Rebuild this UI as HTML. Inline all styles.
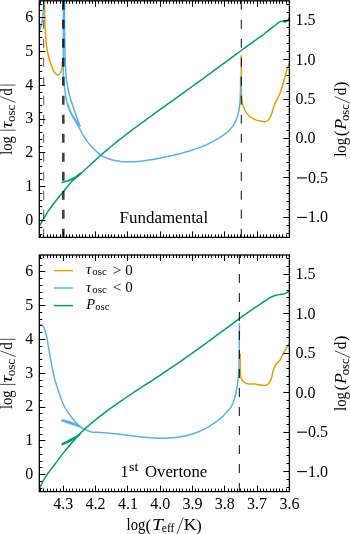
<!DOCTYPE html><html><head><meta charset="utf-8"><style>html,body{margin:0;padding:0;background:#fff;width:350px;height:534px;overflow:hidden}svg{display:block;will-change:transform}text{font-family:"Liberation Serif",serif;fill:#000}.it{font-style:italic}</style></head><body>
<svg width="350" height="534" viewBox="0 0 350 534">
<clipPath id="c0"><rect x="39.3" y="0.8" width="250.09999999999997" height="236.6"/></clipPath>
<g clip-path="url(#c0)">
<path d="M44.4 0 C44.43 1.67 44.53 6.67 44.6 10 C44.67 13.33 44.72 17.22 44.8 20 C44.88 22.78 44.97 24.27 45.1 26.7 C45.23 29.13 45.42 31.97 45.6 34.6 C45.78 37.23 45.92 39.88 46.2 42.5 C46.48 45.12 46.83 47.68 47.3 50.3 C47.77 52.92 48.35 55.75 49 58.2 C49.65 60.65 50.37 62.75 51.2 65 C52.03 67.25 53.05 70.05 54 71.7 C54.95 73.35 56.05 74.43 56.9 74.9 C57.75 75.37 58.45 74.95 59.1 74.5 C59.75 74.05 60.33 73.23 60.8 72.2 C61.27 71.17 61.65 70 61.9 68.3 C62.15 66.6 62.23 63.05 62.3 62" fill="none" stroke="#E69F00" stroke-width="1.5" stroke-linejoin="round" stroke-linecap="butt"/>
<path d="M241.3 55.3 C241.3 59.42 241.27 73.38 241.3 80 C241.33 86.62 241.3 91.17 241.5 95 C241.7 98.83 242 100.58 242.5 103 C243 105.42 243.43 107.37 244.5 109.5 C245.57 111.63 247.17 114.12 248.9 115.8 C250.63 117.48 252.72 118.68 254.9 119.6 C257.08 120.52 260.18 120.97 262 121.3 C263.82 121.63 264.63 121.97 265.8 121.6 C266.97 121.23 268.03 120.37 269 119.1 C269.97 117.83 270.85 115.9 271.6 114 C272.35 112.1 272.87 109.6 273.5 107.7 C274.13 105.8 274.77 104.08 275.4 102.6 C276.03 101.12 276.57 100.28 277.3 98.8 C278.03 97.32 278.95 95.83 279.8 93.7 C280.65 91.57 281.55 88.77 282.4 86 C283.25 83.23 284.17 79.75 284.9 77.1 C285.63 74.45 286.27 71.9 286.8 70.1 C287.33 68.3 287.65 67.35 288.1 66.3 C288.55 65.25 289.27 64.22 289.5 63.8" fill="none" stroke="#E69F00" stroke-width="1.5" stroke-linejoin="round" stroke-linecap="butt"/>
<path d="M44 0 C43.93 1.33 43.77 5.5 43.6 8 C43.43 10.5 43.27 12.67 43 15 C42.73 17.33 42.37 20 42 22 C41.63 24 41.25 25.5 40.8 27 C40.35 28.5 39.55 30.33 39.3 31" fill="none" stroke="#56B4E9" stroke-width="1.5" stroke-linejoin="round" stroke-linecap="butt"/>
<path d="M63.3 0 C63.3 6.67 63.3 30 63.3 40 C63.3 50 63.28 54.17 63.3 60 C63.32 65.83 63.25 70.83 63.4 75 C63.55 79.17 63.83 81.67 64.2 85 C64.57 88.33 65.08 91.9 65.6 95 C66.12 98.1 66.52 100.75 67.3 103.6 C68.08 106.45 69.08 109.38 70.3 112.1 C71.52 114.82 73.32 117.6 74.6 119.9 C75.88 122.2 76.58 123.38 78 125.9 C79.42 128.42 81.8 132.73 83.1 135 C84.4 137.27 84.42 137.57 85.8 139.5 C87.18 141.43 88.93 143.99 91.4 146.6 C93.87 149.21 98.4 153.39 100.6 155.15 C102.8 156.9 103.27 156.55 104.61 157.15 C105.94 157.74 107.28 158.26 108.61 158.72 C109.95 159.19 111.28 159.58 112.62 159.93 C113.95 160.27 115.29 160.56 116.62 160.8 C117.96 161.05 119.3 161.23 120.63 161.39 C121.97 161.54 123.3 161.64 124.64 161.72 C125.97 161.79 127.31 161.82 128.64 161.83 C129.98 161.84 131.31 161.81 132.65 161.76 C133.99 161.7 135.32 161.62 136.66 161.52 C137.99 161.42 139.33 161.3 140.66 161.15 C142 161.01 143.33 160.85 144.67 160.68 C146 160.5 147.34 160.31 148.68 160.1 C150.01 159.9 151.35 159.68 152.68 159.45 C154.02 159.23 155.35 158.99 156.69 158.74 C158.02 158.49 159.36 158.23 160.69 157.97 C162.03 157.7 163.36 157.43 164.7 157.15 C166.04 156.87 167.37 156.58 168.71 156.28 C170.04 155.99 171.38 155.69 172.71 155.38 C174.05 155.06 175.38 154.75 176.72 154.42 C178.05 154.09 179.39 153.75 180.73 153.41 C182.06 153.06 183.4 152.7 184.73 152.33 C186.07 151.96 187.4 151.58 188.74 151.18 C190.07 150.79 191.41 150.38 192.74 149.95 C194.08 149.51 195.41 149.07 196.75 148.6 C198.09 148.13 199.42 147.64 200.76 147.12 C202.09 146.6 203.43 146.06 204.76 145.49 C206.1 144.92 207.43 144.32 208.77 143.68 C210.1 143.04 211.44 142.37 212.78 141.65 C214.11 140.93 215.45 140.18 216.78 139.38 C218.12 138.57 219.45 137.73 220.79 136.82 C222.12 135.92 223.46 134.97 224.79 133.95 C226.13 132.92 227.23 132.39 228.8 130.7 C230.37 129.01 232.67 126.5 234.2 123.8 C235.73 121.1 237.05 117.87 238 114.5 C238.95 111.13 239.48 107.68 239.9 103.6 C240.32 99.52 240.38 94.53 240.5 90 C240.62 85.47 240.58 78.67 240.6 76.4" fill="none" stroke="#56B4E9" stroke-width="1.5" stroke-linejoin="round" stroke-linecap="butt"/>
<path d="M64.5 0 C64.52 5 64.53 21.67 64.6 30 C64.67 38.33 64.8 45 64.9 50 C65 55 65.02 55.83 65.2 60 C65.38 64.17 65.62 70.62 66 75 C66.38 79.38 66.93 82.97 67.5 86.3 C68.07 89.63 68.65 92.12 69.4 95 C70.15 97.88 71.07 100.75 72 103.6 C72.93 106.45 74.07 109.38 75 112.1 C75.93 114.82 76.75 117.6 77.6 119.9 C78.45 122.2 79.83 125.02 80.1 125.9 C80.37 126.78 79.85 126.02 79.2 125.2 C78.55 124.38 77.35 122.7 76.2 121 C75.05 119.3 73.47 117.08 72.3 115 C71.13 112.92 69.98 110.42 69.2 108.5 C68.42 106.58 67.87 104.33 67.6 103.5" fill="none" stroke="#56B4E9" stroke-width="1.5" stroke-linejoin="round" stroke-linecap="butt"/>
<path d="M39.3 226 C40.23 224.43 43.37 219.17 44.9 216.6 C46.43 214.03 47.13 212.62 48.5 210.6 C49.87 208.58 51.47 206.63 53.1 204.5 C54.73 202.37 56.67 199.82 58.3 197.8 C59.93 195.78 61.7 193.87 62.9 192.4 C64.1 190.93 64.47 190.33 65.5 189 C66.53 187.67 67.73 185.93 69.1 184.4 C70.47 182.87 72.07 181.33 73.7 179.8 C75.33 178.27 76.75 177.12 78.9 175.2 C81.05 173.28 83.9 170.77 86.6 168.3 C89.3 165.83 92.69 162.59 95.1 160.39 C97.51 158.18 99.07 156.79 101.06 155.04 C103.05 153.3 105.03 151.59 107.02 149.91 C109.01 148.23 111 146.58 112.98 144.96 C114.97 143.33 116.96 141.74 118.94 140.16 C120.93 138.59 122.92 137.04 124.9 135.5 C126.89 133.96 128.88 132.45 130.86 130.94 C132.85 129.44 134.84 127.96 136.82 126.48 C138.81 125 140.8 123.54 142.79 122.08 C144.77 120.63 146.76 119.18 148.75 117.74 C150.73 116.3 152.72 114.87 154.71 113.44 C156.69 112.01 158.68 110.58 160.67 109.16 C162.65 107.73 164.64 106.31 166.63 104.89 C168.62 103.46 170.6 102.04 172.59 100.62 C174.58 99.2 176.56 97.77 178.55 96.35 C180.54 94.92 182.52 93.49 184.51 92.06 C186.5 90.63 188.48 89.2 190.47 87.76 C192.46 86.32 194.45 84.88 196.43 83.44 C198.42 81.99 200.41 80.55 202.39 79.09 C204.38 77.64 206.37 76.19 208.35 74.73 C210.34 73.27 212.33 71.81 214.31 70.35 C216.3 68.89 218.29 67.42 220.28 65.96 C222.26 64.49 224.25 63.02 226.24 61.55 C228.22 60.09 230.21 58.62 232.2 57.15 C234.18 55.69 236.17 54.22 238.16 52.76 C240.14 51.3 242.13 49.84 244.12 48.39 C246.1 46.94 248.09 45.49 250.08 44.06 C252.07 42.62 254.05 41.19 256.04 39.77 C258.03 38.35 260.01 37.05 262 35.55 C263.99 34.06 266 32.36 268 30.8 C270 29.24 272.42 27.43 274 26.2 C275.58 24.97 276.57 24.12 277.5 23.4 C278.43 22.68 278.88 22.25 279.6 21.9 C280.32 21.55 281.15 21.35 281.8 21.3 C282.45 21.25 282.97 21.5 283.5 21.6 C284.03 21.7 284.48 21.93 285 21.9 C285.52 21.87 286.12 21.68 286.6 21.4 C287.08 21.12 287.43 20.85 287.9 20.2 C288.37 19.55 289.15 17.95 289.4 17.5" fill="none" stroke="#009E73" stroke-width="1.5" stroke-linejoin="round" stroke-linecap="butt"/>
<path d="M61.4 182.6 C61.93 182.45 63.32 182.12 64.6 181.7 C65.88 181.28 67.58 180.72 69.1 180.1 C70.62 179.48 72.38 178.72 73.7 178 C75.02 177.28 75.88 176.6 77 175.8 C78.12 175 80.15 173.27 80.4 173.2 C80.65 173.13 79.32 174.63 78.5 175.4 C77.68 176.17 76.58 177.1 75.5 177.8 C74.42 178.5 73.25 179.07 72 179.6 C70.75 180.13 68.67 180.77 68 181" fill="none" stroke="#009E73" stroke-width="1.5" stroke-linejoin="round" stroke-linecap="butt"/>
</g>
<line x1="43.7" y1="0.8" x2="43.7" y2="237.4" stroke="#000" stroke-opacity="0.75" stroke-width="0.9" stroke-dasharray="9 10"/>
<line x1="63.3" y1="0.8" x2="63.3" y2="237.4" stroke="#000" stroke-opacity="0.75" stroke-width="2.6" stroke-dasharray="9 10"/>
<line x1="241.35" y1="0.8" x2="241.35" y2="237.4" stroke="#000" stroke-opacity="0.8" stroke-width="1.2" stroke-dasharray="9 10"/>
<clipPath id="c1"><rect x="39.3" y="255.0" width="250.09999999999997" height="236.60000000000002"/></clipPath>
<g clip-path="url(#c1)">
<path d="M39.3 325.2 C39.68 325.15 40.9 324.67 41.6 324.9 C42.3 325.13 42.87 325.55 43.5 326.6 C44.13 327.65 44.78 329.05 45.4 331.2 C46.02 333.35 46.58 336.23 47.2 339.5 C47.82 342.77 48.32 346.4 49.1 350.8 C49.88 355.2 50.97 361.2 51.9 365.9 C52.83 370.6 53.47 374.4 54.7 379 C55.93 383.6 57.82 389.17 59.3 393.5 C60.78 397.83 61.93 401.53 63.6 405 C65.27 408.47 67.4 411.57 69.3 414.3 C71.2 417.03 73.1 419.27 75 421.4 C76.9 423.53 78.92 425.67 80.7 427.1 C82.48 428.53 83.8 429.17 85.7 430 C87.6 430.83 90.37 431.73 92.1 432.11 C93.83 432.48 94.74 432.18 96.06 432.23 C97.38 432.29 98.71 432.36 100.03 432.44 C101.35 432.52 102.67 432.61 103.99 432.71 C105.31 432.82 106.63 432.93 107.95 433.05 C109.28 433.17 110.6 433.3 111.92 433.44 C113.24 433.58 114.56 433.72 115.88 433.87 C117.2 434.02 118.52 434.18 119.85 434.33 C121.17 434.49 122.49 434.65 123.81 434.81 C125.13 434.98 126.45 435.14 127.77 435.3 C129.09 435.47 130.42 435.63 131.74 435.79 C133.06 435.95 134.38 436.11 135.7 436.27 C137.02 436.42 138.34 436.57 139.66 436.71 C140.98 436.86 142.31 437 143.63 437.13 C144.95 437.25 146.27 437.38 147.59 437.49 C148.91 437.6 150.23 437.7 151.55 437.78 C152.88 437.87 154.2 437.95 155.52 438 C156.84 438.06 158.16 438.11 159.48 438.14 C160.8 438.16 162.12 438.18 163.45 438.17 C164.77 438.16 166.09 438.13 167.41 438.08 C168.73 438.03 170.05 437.96 171.37 437.87 C172.69 437.77 174.02 437.65 175.34 437.51 C176.66 437.36 177.98 437.19 179.3 436.99 C180.62 436.79 181.94 436.56 183.26 436.29 C184.58 436.03 185.91 435.74 187.23 435.41 C188.55 435.08 189.87 434.72 191.19 434.33 C192.51 433.93 193.83 433.49 195.15 433.02 C196.48 432.54 197.8 432.03 199.12 431.48 C200.44 430.92 201.76 430.33 203.08 429.68 C204.4 429.04 205.72 428.36 207.05 427.62 C208.37 426.89 209.69 426.11 211.01 425.27 C212.33 424.44 213.65 423.56 214.97 422.62 C216.29 421.69 217.62 420.7 218.94 419.65 C220.26 418.61 220.82 418.55 222.9 416.35 C224.98 414.14 229.45 409.46 231.4 406.4 C233.35 403.34 233.75 400.73 234.6 398 C235.45 395.27 235.9 393.33 236.5 390 C237.1 386.67 237.78 382.08 238.2 378 C238.62 373.92 238.82 371.83 239 365.5 C239.18 359.17 239.23 346.98 239.3 340 C239.37 333.02 239.38 326.33 239.4 323.6" fill="none" stroke="#56B4E9" stroke-width="1.5" stroke-linejoin="round" stroke-linecap="butt"/>
<path d="M61.4 420 C62.17 420.13 64.23 420.33 66 420.8 C67.77 421.27 70.17 422.13 72 422.8 C73.83 423.47 75.55 424.13 77 424.8 C78.45 425.47 80.87 426.68 80.7 426.8 C80.53 426.92 77.78 426.05 76 425.5 C74.22 424.95 71.83 424.12 70 423.5 C68.17 422.88 66.43 422.22 65 421.8 C63.57 421.38 62 421.13 61.4 421" fill="none" stroke="#56B4E9" stroke-width="1.5" stroke-linejoin="round" stroke-linecap="butt"/>
<path d="M240.2 353.6 C240.22 356.5 240.17 367.02 240.3 371 C240.43 374.98 240.52 375.75 241 377.5 C241.48 379.25 242.13 380.47 243.2 381.5 C244.27 382.53 245.45 383.28 247.4 383.7 C249.35 384.12 252.92 383.82 254.9 384 C256.88 384.18 257.7 384.55 259.3 384.8 C260.9 385.05 263.02 385.63 264.5 385.5 C265.98 385.37 267.08 385.08 268.2 384 C269.32 382.92 270.33 381.32 271.2 379 C272.07 376.68 272.65 372.52 273.4 370.1 C274.15 367.68 274.7 366.02 275.7 364.5 C276.7 362.98 278.17 362.78 279.4 361 C280.63 359.22 281.98 355.87 283.1 353.8 C284.22 351.73 285.05 350.32 286.1 348.6 C287.15 346.88 288.85 344.35 289.4 343.5" fill="none" stroke="#E69F00" stroke-width="1.5" stroke-linejoin="round" stroke-linecap="butt"/>
<path d="M39.3 488.6 C39.43 488.3 39.6 487.8 40.1 486.8 C40.6 485.8 41.37 484.3 42.3 482.6 C43.23 480.9 44.42 478.6 45.7 476.6 C46.98 474.6 48.43 472.7 50 470.6 C51.57 468.5 53.7 465.83 55.1 464 C56.5 462.17 56.98 461.5 58.4 459.6 C59.82 457.7 61.88 454.8 63.6 452.6 C65.32 450.4 66.98 448.43 68.7 446.4 C70.42 444.37 72.18 442.37 73.9 440.4 C75.62 438.43 77.3 436.4 79 434.6 C80.7 432.8 81.92 431.6 84.1 429.6 C86.28 427.6 89.78 424.57 92.1 422.6 C94.42 420.63 96 419.38 98 417.8 C100 416.22 102.05 414.64 104.07 413.11 C106.1 411.58 108.12 410.09 110.15 408.62 C112.17 407.15 114.2 405.72 116.22 404.3 C118.25 402.88 120.27 401.49 122.3 400.1 C124.32 398.72 126.35 397.36 128.37 396 C130.4 394.65 132.42 393.31 134.44 391.97 C136.47 390.63 138.49 389.3 140.52 387.97 C142.54 386.65 144.57 385.32 146.59 384 C148.62 382.67 150.64 381.35 152.67 380.02 C154.69 378.69 156.72 377.36 158.74 376.02 C160.77 374.68 162.79 373.34 164.81 371.99 C166.84 370.64 168.86 369.28 170.89 367.91 C172.91 366.54 174.94 365.17 176.96 363.78 C178.99 362.39 181.01 361 183.04 359.59 C185.06 358.18 187.09 356.76 189.11 355.34 C191.14 353.91 193.16 352.47 195.19 351.03 C197.21 349.58 199.23 348.12 201.26 346.66 C203.28 345.2 205.31 343.72 207.33 342.24 C209.36 340.76 211.38 339.28 213.41 337.79 C215.43 336.3 217.46 334.8 219.48 333.3 C221.51 331.81 223.53 330.31 225.56 328.81 C227.58 327.31 229.6 325.81 231.63 324.32 C233.65 322.83 235.68 321.35 237.7 319.87 C239.73 318.39 241.75 316.92 243.78 315.47 C245.8 314.02 247.83 312.57 249.85 311.15 C251.88 309.73 253.9 308.32 255.93 306.95 C257.95 305.57 260.24 304.08 262 302.89 C263.76 301.7 265.17 300.67 266.5 299.8 C267.83 298.93 268.83 298.33 270 297.7 C271.17 297.07 272.33 296.45 273.5 296 C274.67 295.55 275.83 295.25 277 295 C278.17 294.75 279.4 294.65 280.5 294.5 C281.6 294.35 282.65 294.33 283.6 294.1 C284.55 293.87 285.23 293.68 286.2 293.1 C287.17 292.52 288.87 291.02 289.4 290.6" fill="none" stroke="#009E73" stroke-width="1.5" stroke-linejoin="round" stroke-linecap="butt"/>
<path d="M61.6 443.9 C62.33 443.57 64.25 442.77 66 441.9 C67.75 441.03 70.35 439.63 72.1 438.7 C73.85 437.77 75.2 437.02 76.5 436.3 C77.8 435.58 79.9 434.22 79.9 434.4 C79.9 434.58 77.82 436.43 76.5 437.4 C75.18 438.37 73.75 439.27 72 440.2 C70.25 441.13 67.73 442.25 66 443 C64.27 443.75 62.33 444.42 61.6 444.7" fill="none" stroke="#009E73" stroke-width="1.5" stroke-linejoin="round" stroke-linecap="butt"/>
</g>
<line x1="239.4" y1="255.0" x2="239.4" y2="491.6" stroke="#000" stroke-opacity="0.8" stroke-width="1.2" stroke-dasharray="9 10"/>
<path d="M286.5 237.4v-3M286.5 0.8v3M282.5 237.4v-3M282.5 0.8v3M279.5 237.4v-3M279.5 0.8v3M276.5 237.4v-3M276.5 0.8v3M273.5 237.4v-3M273.5 0.8v3M270.5 237.4v-3M270.5 0.8v3M266.5 237.4v-3M266.5 0.8v3M263.5 237.4v-3M263.5 0.8v3M260.5 237.4v-3M260.5 0.8v3M257.5 237.4v-6M257.5 0.8v6M253.5 237.4v-3M253.5 0.8v3M250.5 237.4v-3M250.5 0.8v3M247.5 237.4v-3M247.5 0.8v3M244.5 237.4v-3M244.5 0.8v3M240.5 237.4v-3M240.5 0.8v3M237.5 237.4v-3M237.5 0.8v3M234.5 237.4v-3M234.5 0.8v3M231.5 237.4v-3M231.5 0.8v3M228.5 237.4v-3M228.5 0.8v3M224.5 237.4v-6M224.5 0.8v6M221.5 237.4v-3M221.5 0.8v3M218.5 237.4v-3M218.5 0.8v3M215.5 237.4v-3M215.5 0.8v3M211.5 237.4v-3M211.5 0.8v3M208.5 237.4v-3M208.5 0.8v3M205.5 237.4v-3M205.5 0.8v3M202.5 237.4v-3M202.5 0.8v3M198.5 237.4v-3M198.5 0.8v3M195.5 237.4v-3M195.5 0.8v3M192.5 237.4v-6M192.5 0.8v6M189.5 237.4v-3M189.5 0.8v3M186.5 237.4v-3M186.5 0.8v3M182.5 237.4v-3M182.5 0.8v3M179.5 237.4v-3M179.5 0.8v3M176.5 237.4v-3M176.5 0.8v3M173.5 237.4v-3M173.5 0.8v3M169.5 237.4v-3M169.5 0.8v3M166.5 237.4v-3M166.5 0.8v3M163.5 237.4v-3M163.5 0.8v3M160.5 237.4v-6M160.5 0.8v6M156.5 237.4v-3M156.5 0.8v3M153.5 237.4v-3M153.5 0.8v3M150.5 237.4v-3M150.5 0.8v3M147.5 237.4v-3M147.5 0.8v3M144.5 237.4v-3M144.5 0.8v3M140.5 237.4v-3M140.5 0.8v3M137.5 237.4v-3M137.5 0.8v3M134.5 237.4v-3M134.5 0.8v3M131.5 237.4v-3M131.5 0.8v3M127.5 237.4v-6M127.5 0.8v6M124.5 237.4v-3M124.5 0.8v3M121.5 237.4v-3M121.5 0.8v3M118.5 237.4v-3M118.5 0.8v3M114.5 237.4v-3M114.5 0.8v3M111.5 237.4v-3M111.5 0.8v3M108.5 237.4v-3M108.5 0.8v3M105.5 237.4v-3M105.5 0.8v3M102.5 237.4v-3M102.5 0.8v3M98.5 237.4v-3M98.5 0.8v3M95.5 237.4v-6M95.5 0.8v6M92.5 237.4v-3M92.5 0.8v3M89.5 237.4v-3M89.5 0.8v3M85.5 237.4v-3M85.5 0.8v3M82.5 237.4v-3M82.5 0.8v3M79.5 237.4v-3M79.5 0.8v3M76.5 237.4v-3M76.5 0.8v3M72.5 237.4v-3M72.5 0.8v3M69.5 237.4v-3M69.5 0.8v3M66.5 237.4v-3M66.5 0.8v3M63.5 237.4v-6M63.5 0.8v6M60.5 237.4v-3M60.5 0.8v3M56.5 237.4v-3M56.5 0.8v3M53.5 237.4v-3M53.5 0.8v3M50.5 237.4v-3M50.5 0.8v3M47.5 237.4v-3M47.5 0.8v3M43.5 237.4v-3M43.5 0.8v3M40.5 237.4v-3M40.5 0.8v3M39.3 234.5h3M39.3 227.5h3M39.3 220.5h6M39.3 213.5h3M39.3 206.5h3M39.3 200.5h3M39.3 193.5h3M39.3 186.5h6M39.3 179.5h3M39.3 173.5h3M39.3 166.5h3M39.3 159.5h3M39.3 152.5h6M39.3 146.5h3M39.3 139.5h3M39.3 132.5h3M39.3 125.5h3M39.3 119.5h6M39.3 112.5h3M39.3 105.5h3M39.3 98.5h3M39.3 92.5h3M39.3 85.5h6M39.3 78.5h3M39.3 71.5h3M39.3 65.5h3M39.3 58.5h3M39.3 51.5h6M39.3 44.5h3M39.3 37.5h3M39.3 31.5h3M39.3 24.5h3M39.3 17.5h6M39.3 10.5h3M39.3 4.5h3M289.4 233.5h-3M289.4 225.5h-3M289.4 217.5h-6M289.4 209.5h-3M289.4 201.5h-3M289.4 193.5h-3M289.4 185.5h-3M289.4 177.5h-6M289.4 170.5h-3M289.4 162.5h-3M289.4 154.5h-3M289.4 146.5h-3M289.4 138.5h-6M289.4 130.5h-3M289.4 122.5h-3M289.4 114.5h-3M289.4 106.5h-3M289.4 99.5h-6M289.4 91.5h-3M289.4 83.5h-3M289.4 75.5h-3M289.4 67.5h-3M289.4 59.5h-6M289.4 51.5h-3M289.4 43.5h-3M289.4 35.5h-3M289.4 27.5h-3M289.4 20.5h-6M289.4 12.5h-3M289.4 4.5h-3" stroke="#000" stroke-width="1" fill="none"/>
<rect x="39.3" y="0.8" width="250.09999999999997" height="236.6" fill="none" stroke="#000" stroke-width="1.3"/>
<text x="33.2" y="224.8" font-size="16.0" text-anchor="end">0</text>
<text x="33.2" y="191" font-size="16.0" text-anchor="end">1</text>
<text x="33.2" y="157.2" font-size="16.0" text-anchor="end">2</text>
<text x="33.2" y="123.4" font-size="16.0" text-anchor="end">3</text>
<text x="33.2" y="89.6" font-size="16.0" text-anchor="end">4</text>
<text x="33.2" y="55.8" font-size="16.0" text-anchor="end">5</text>
<text x="33.2" y="22" font-size="16.0" text-anchor="end">6</text>
<rect x="297.1" y="216.85" width="9.8" height="1.1" fill="#000"/>
<text x="307.9" y="222.35" font-size="16.0">1.0</text>
<rect x="297.1" y="177.4" width="9.8" height="1.1" fill="#000"/>
<text x="307.9" y="182.9" font-size="16.0">0.5</text>
<text x="295.5" y="143.45" font-size="16.0">0.0</text>
<text x="295.5" y="104" font-size="16.0">0.5</text>
<text x="295.5" y="64.55" font-size="16.0">1.0</text>
<text x="295.5" y="25.1" font-size="16.0">1.5</text>
<path d="M286.5 491.6v-3M286.5 255v3M282.5 491.6v-3M282.5 255v3M279.5 491.6v-3M279.5 255v3M276.5 491.6v-3M276.5 255v3M273.5 491.6v-3M273.5 255v3M270.5 491.6v-3M270.5 255v3M266.5 491.6v-3M266.5 255v3M263.5 491.6v-3M263.5 255v3M260.5 491.6v-3M260.5 255v3M257.5 491.6v-6M257.5 255v6M253.5 491.6v-3M253.5 255v3M250.5 491.6v-3M250.5 255v3M247.5 491.6v-3M247.5 255v3M244.5 491.6v-3M244.5 255v3M240.5 491.6v-3M240.5 255v3M237.5 491.6v-3M237.5 255v3M234.5 491.6v-3M234.5 255v3M231.5 491.6v-3M231.5 255v3M228.5 491.6v-3M228.5 255v3M224.5 491.6v-6M224.5 255v6M221.5 491.6v-3M221.5 255v3M218.5 491.6v-3M218.5 255v3M215.5 491.6v-3M215.5 255v3M211.5 491.6v-3M211.5 255v3M208.5 491.6v-3M208.5 255v3M205.5 491.6v-3M205.5 255v3M202.5 491.6v-3M202.5 255v3M198.5 491.6v-3M198.5 255v3M195.5 491.6v-3M195.5 255v3M192.5 491.6v-6M192.5 255v6M189.5 491.6v-3M189.5 255v3M186.5 491.6v-3M186.5 255v3M182.5 491.6v-3M182.5 255v3M179.5 491.6v-3M179.5 255v3M176.5 491.6v-3M176.5 255v3M173.5 491.6v-3M173.5 255v3M169.5 491.6v-3M169.5 255v3M166.5 491.6v-3M166.5 255v3M163.5 491.6v-3M163.5 255v3M160.5 491.6v-6M160.5 255v6M156.5 491.6v-3M156.5 255v3M153.5 491.6v-3M153.5 255v3M150.5 491.6v-3M150.5 255v3M147.5 491.6v-3M147.5 255v3M144.5 491.6v-3M144.5 255v3M140.5 491.6v-3M140.5 255v3M137.5 491.6v-3M137.5 255v3M134.5 491.6v-3M134.5 255v3M131.5 491.6v-3M131.5 255v3M127.5 491.6v-6M127.5 255v6M124.5 491.6v-3M124.5 255v3M121.5 491.6v-3M121.5 255v3M118.5 491.6v-3M118.5 255v3M114.5 491.6v-3M114.5 255v3M111.5 491.6v-3M111.5 255v3M108.5 491.6v-3M108.5 255v3M105.5 491.6v-3M105.5 255v3M102.5 491.6v-3M102.5 255v3M98.5 491.6v-3M98.5 255v3M95.5 491.6v-6M95.5 255v6M92.5 491.6v-3M92.5 255v3M89.5 491.6v-3M89.5 255v3M85.5 491.6v-3M85.5 255v3M82.5 491.6v-3M82.5 255v3M79.5 491.6v-3M79.5 255v3M76.5 491.6v-3M76.5 255v3M72.5 491.6v-3M72.5 255v3M69.5 491.6v-3M69.5 255v3M66.5 491.6v-3M66.5 255v3M63.5 491.6v-6M63.5 255v6M60.5 491.6v-3M60.5 255v3M56.5 491.6v-3M56.5 255v3M53.5 491.6v-3M53.5 255v3M50.5 491.6v-3M50.5 255v3M47.5 491.6v-3M47.5 255v3M43.5 491.6v-3M43.5 255v3M40.5 491.6v-3M40.5 255v3M39.3 488.5h3M39.3 481.5h3M39.3 474.5h6M39.3 467.5h3M39.3 461.5h3M39.3 454.5h3M39.3 447.5h3M39.3 440.5h6M39.3 434.5h3M39.3 427.5h3M39.3 420.5h3M39.3 413.5h3M39.3 407.5h6M39.3 400.5h3M39.3 393.5h3M39.3 386.5h3M39.3 380.5h3M39.3 373.5h6M39.3 366.5h3M39.3 359.5h3M39.3 353.5h3M39.3 346.5h3M39.3 339.5h6M39.3 332.5h3M39.3 325.5h3M39.3 319.5h3M39.3 312.5h3M39.3 305.5h6M39.3 298.5h3M39.3 292.5h3M39.3 285.5h3M39.3 278.5h3M39.3 271.5h6M39.3 265.5h3M39.3 258.5h3M289.4 487.5h-3M289.4 479.5h-3M289.4 471.5h-6M289.4 463.5h-3M289.4 455.5h-3M289.4 447.5h-3M289.4 439.5h-3M289.4 432.5h-6M289.4 424.5h-3M289.4 416.5h-3M289.4 408.5h-3M289.4 400.5h-3M289.4 392.5h-6M289.4 384.5h-3M289.4 376.5h-3M289.4 368.5h-3M289.4 361.5h-3M289.4 353.5h-6M289.4 345.5h-3M289.4 337.5h-3M289.4 329.5h-3M289.4 321.5h-3M289.4 313.5h-6M289.4 305.5h-3M289.4 297.5h-3M289.4 290.5h-3M289.4 282.5h-3M289.4 274.5h-6M289.4 266.5h-3M289.4 258.5h-3" stroke="#000" stroke-width="1" fill="none"/>
<rect x="39.3" y="255.0" width="250.09999999999997" height="236.60000000000002" fill="none" stroke="#000" stroke-width="1.3"/>
<text x="33.2" y="479" font-size="16.0" text-anchor="end">0</text>
<text x="33.2" y="445.2" font-size="16.0" text-anchor="end">1</text>
<text x="33.2" y="411.4" font-size="16.0" text-anchor="end">2</text>
<text x="33.2" y="377.6" font-size="16.0" text-anchor="end">3</text>
<text x="33.2" y="343.8" font-size="16.0" text-anchor="end">4</text>
<text x="33.2" y="310" font-size="16.0" text-anchor="end">5</text>
<text x="33.2" y="276.2" font-size="16.0" text-anchor="end">6</text>
<rect x="297.1" y="471.05" width="9.8" height="1.1" fill="#000"/>
<text x="307.9" y="476.55" font-size="16.0">1.0</text>
<rect x="297.1" y="431.6" width="9.8" height="1.1" fill="#000"/>
<text x="307.9" y="437.1" font-size="16.0">0.5</text>
<text x="295.5" y="397.65" font-size="16.0">0.0</text>
<text x="295.5" y="358.2" font-size="16.0">0.5</text>
<text x="295.5" y="318.75" font-size="16.0">1.0</text>
<text x="295.5" y="279.3" font-size="16.0">1.5</text>
<text x="289.4" y="508.5" font-size="16.0" text-anchor="middle">3.6</text>
<text x="257.1" y="508.5" font-size="16.0" text-anchor="middle">3.7</text>
<text x="224.8" y="508.5" font-size="16.0" text-anchor="middle">3.8</text>
<text x="192.5" y="508.5" font-size="16.0" text-anchor="middle">3.9</text>
<text x="160.2" y="508.5" font-size="16.0" text-anchor="middle">4.0</text>
<text x="127.9" y="508.5" font-size="16.0" text-anchor="middle">4.1</text>
<text x="95.6" y="508.5" font-size="16.0" text-anchor="middle">4.2</text>
<text x="63.3" y="508.5" font-size="16.0" text-anchor="middle">4.3</text>
<text transform="translate(11.9 154.5) rotate(-90)" x="-0.29" y="0" font-size="15.8" textLength="18.57" lengthAdjust="spacingAndGlyphs">log</text>
<line x1="0.2" y1="130.2" x2="15.6" y2="130.2" stroke="#222" stroke-width="0.8"/>
<text transform="translate(11.9 128) rotate(-90)" x="-0.44" y="0" font-size="15.8" textLength="7.13" lengthAdjust="spacingAndGlyphs" class="it">τ</text>
<text transform="translate(15 121.6) rotate(-90)" x="-0.5" y="0" font-size="11.5" textLength="17.5" lengthAdjust="spacingAndGlyphs">osc</text>
<line x1="0.3" y1="96.6" x2="15.6" y2="102.4" stroke="#222" stroke-width="0.8"/>
<text transform="translate(11.9 95.1) rotate(-90)" x="-0.54" y="0" font-size="15.8" textLength="7.53" lengthAdjust="spacingAndGlyphs">d</text>
<line x1="0.2" y1="85.1" x2="15.6" y2="85.1" stroke="#222" stroke-width="0.8"/>
<text transform="translate(346.1 156.5) rotate(-90)" x="-0.3" y="0" font-size="15.8" textLength="18.98" lengthAdjust="spacingAndGlyphs">log</text>
<text transform="translate(346.4 135.5) rotate(-90)" x="-0.75" y="0" font-size="17.5" textLength="5.7" lengthAdjust="spacingAndGlyphs">(</text>
<text transform="translate(346.1 129.8) rotate(-90)" x="0.1" y="0" font-size="16.5" textLength="10.86" lengthAdjust="spacingAndGlyphs" class="it">P</text>
<text transform="translate(348.7 120.6) rotate(-90)" x="-0.49" y="0" font-size="11.5" textLength="16.98" lengthAdjust="spacingAndGlyphs">osc</text>
<line x1="334.9" y1="96.6" x2="350" y2="103.2" stroke="#222" stroke-width="0.8"/>
<text transform="translate(346.1 94.6) rotate(-90)" x="-0.55" y="0" font-size="15.8" textLength="7.64" lengthAdjust="spacingAndGlyphs">d</text>
<text transform="translate(346.4 86.6) rotate(-90)" x="-0.55" y="0" font-size="17.5" textLength="5.7" lengthAdjust="spacingAndGlyphs">)</text>
<text transform="translate(11.9 408.7) rotate(-90)" x="-0.29" y="0" font-size="15.8" textLength="18.57" lengthAdjust="spacingAndGlyphs">log</text>
<line x1="0.2" y1="384.4" x2="15.6" y2="384.4" stroke="#222" stroke-width="0.8"/>
<text transform="translate(11.9 382.2) rotate(-90)" x="-0.44" y="0" font-size="15.8" textLength="7.13" lengthAdjust="spacingAndGlyphs" class="it">τ</text>
<text transform="translate(15 375.8) rotate(-90)" x="-0.5" y="0" font-size="11.5" textLength="17.5" lengthAdjust="spacingAndGlyphs">osc</text>
<line x1="0.3" y1="350.8" x2="15.6" y2="356.6" stroke="#222" stroke-width="0.8"/>
<text transform="translate(11.9 349.3) rotate(-90)" x="-0.54" y="0" font-size="15.8" textLength="7.53" lengthAdjust="spacingAndGlyphs">d</text>
<line x1="0.2" y1="339.3" x2="15.6" y2="339.3" stroke="#222" stroke-width="0.8"/>
<text transform="translate(346.1 410.7) rotate(-90)" x="-0.3" y="0" font-size="15.8" textLength="18.98" lengthAdjust="spacingAndGlyphs">log</text>
<text transform="translate(346.4 389.7) rotate(-90)" x="-0.75" y="0" font-size="17.5" textLength="5.7" lengthAdjust="spacingAndGlyphs">(</text>
<text transform="translate(346.1 384) rotate(-90)" x="0.1" y="0" font-size="16.5" textLength="10.86" lengthAdjust="spacingAndGlyphs" class="it">P</text>
<text transform="translate(348.7 374.8) rotate(-90)" x="-0.49" y="0" font-size="11.5" textLength="16.98" lengthAdjust="spacingAndGlyphs">osc</text>
<line x1="334.9" y1="350.8" x2="350" y2="357.4" stroke="#222" stroke-width="0.8"/>
<text transform="translate(346.1 348.8) rotate(-90)" x="-0.55" y="0" font-size="15.8" textLength="7.64" lengthAdjust="spacingAndGlyphs">d</text>
<text transform="translate(346.4 340.8) rotate(-90)" x="-0.55" y="0" font-size="17.5" textLength="5.7" lengthAdjust="spacingAndGlyphs">)</text>
<text x="126.61" y="530.2" font-size="15.8" textLength="18.77" lengthAdjust="spacingAndGlyphs">log</text>
<text x="145.55" y="530.6" font-size="17.5" textLength="5.7" lengthAdjust="spacingAndGlyphs">(</text>
<text x="152.13" y="530.2" font-size="16.5" textLength="10.82" lengthAdjust="spacingAndGlyphs" class="it">T</text>
<text x="161.75" y="532.4" font-size="12.0" textLength="12.65" lengthAdjust="spacingAndGlyphs">eff</text>
<line x1="176.9" y1="534" x2="183.1" y2="517.6" stroke="#222" stroke-width="0.8"/>
<text x="183.89" y="530.2" font-size="15.8" textLength="12.69" lengthAdjust="spacingAndGlyphs">K</text>
<text x="196.17" y="530.6" font-size="17.5" textLength="5.45" lengthAdjust="spacingAndGlyphs">)</text>
<text x="119.5" y="223" font-size="15.8" textLength="88.6" lengthAdjust="spacingAndGlyphs">Fundamental</text>
<text x="120.6" y="477" font-size="15.8">1</text>
<text x="129.0" y="471.2" font-size="12" textLength="9.4" lengthAdjust="spacingAndGlyphs">st</text>
<text x="145" y="477" font-size="15.8" textLength="62.2" lengthAdjust="spacingAndGlyphs">Overtone</text>
<line x1="54" x2="73" y1="270.6" y2="270.6" stroke="#E69F00" stroke-width="1.5"/>
<text x="86.0" y="274.1" font-size="14.6" class="it">τ</text>
<text x="92.3" y="275.4" font-size="11.0" textLength="14.6" lengthAdjust="spacingAndGlyphs">osc</text>
<text x="117" y="274.5" font-size="15.5" text-anchor="middle">&gt;</text>
<text x="125.2" y="274.5" font-size="15.0">0</text>
<line x1="54" x2="73" y1="288.0" y2="288.0" stroke="#56B4E9" stroke-width="1.5"/>
<text x="86.0" y="291.5" font-size="14.6" class="it">τ</text>
<text x="92.3" y="292.8" font-size="11.0" textLength="14.6" lengthAdjust="spacingAndGlyphs">osc</text>
<text x="117" y="291.9" font-size="15.5" text-anchor="middle">&lt;</text>
<text x="125.2" y="291.9" font-size="15.0">0</text>
<line x1="54" x2="73" y1="305.6" y2="305.6" stroke="#009E73" stroke-width="1.5"/>
<text x="86.2" y="308.5" font-size="14.6" class="it">P</text>
<text x="95.2" y="310.4" font-size="11.0" textLength="14.2" lengthAdjust="spacingAndGlyphs">osc</text>
</svg></body></html>
